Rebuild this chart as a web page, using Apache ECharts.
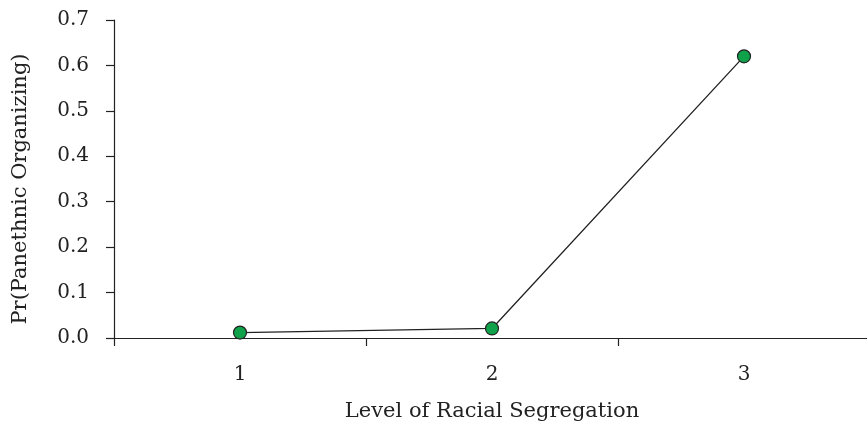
<!DOCTYPE html>
<html><head><meta charset="utf-8">
<script src="https://cdn.jsdelivr.net/npm/echarts@6/dist/echarts.min.js"></script>
<style>html,body{margin:0;padding:0;background:#fff}#c{width:867px;height:433px}</style>
</head><body><div id="c"></div>
<script>
const categories = ['1', '2', '3'];
const values = [0.012, 0.021, 0.62];
const yTicks = ['0.0','0.1','0.2','0.3','0.4','0.5','0.6','0.7'];
const xName = 'Level of Racial Segregation';
const yName = 'Pr(Panethnic Organizing)';

const font = 'DejaVu Serif';
const chart = echarts.init(document.getElementById('c'));
chart.setOption({
  animation: false,
  grid: {left: 114, right: -3, top: 20, bottom: 95, outerBoundsMode: 'none', containLabel: false},
  graphic: [{
    type: 'text', x: 21, y: 189, rotation: Math.PI / 2,
    style: {text: yName, fontFamily: font, fontSize: 21, fill: '#222',
      align: 'center', verticalAlign: 'middle'}
  }],
  xAxis: {
    type: 'category', data: categories, boundaryGap: true,
    name: xName, nameLocation: 'middle', nameGap: 63,
    nameTextStyle: {fontFamily: font, fontSize: 21, color: '#222'},
    axisLine: {lineStyle: {color: '#222', width: 1.2}},
    axisTick: {show: true, length: 8, alignWithLabel: false, lineStyle: {color: '#222', width: 1.2}},
    axisLabel: {fontFamily: font, fontSize: 20, color: '#222', margin: 27}
  },
  yAxis: {
    type: 'value', min: 0, max: 0.7, interval: 0.1,
    axisLine: {show: true, lineStyle: {color: '#222', width: 1.2}},
    axisTick: {show: true, length: 8, lineStyle: {color: '#222', width: 1.2}},
    splitLine: {show: false},
    axisLabel: {fontFamily: font, fontSize: 20, color: '#222', margin: 25,
      formatter: v => yTicks[Math.round(v * 10)]}
  },
  series: [{
    type: 'line', data: values,
    symbol: 'circle', symbolSize: 13,
    lineStyle: {color: '#222', width: 1.3},
    itemStyle: {color: '#0fa24b', borderColor: '#222', borderWidth: 1.2}
  }]
});
</script></body></html>
